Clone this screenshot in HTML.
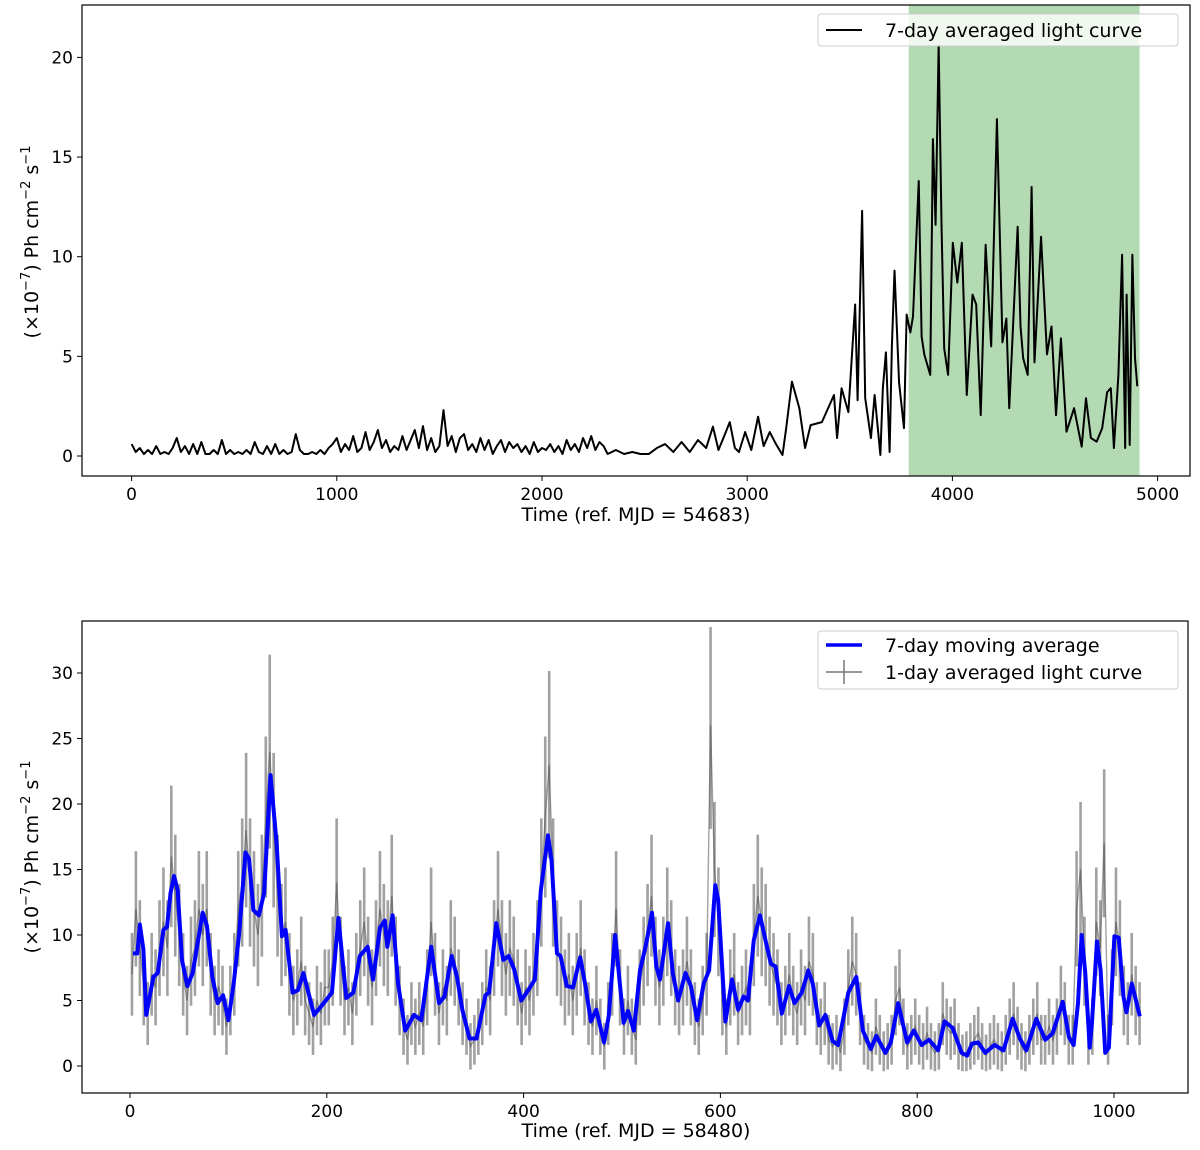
<!DOCTYPE html>
<html><head><meta charset="utf-8"><style>
html,body{margin:0;padding:0;background:#fff;}
svg{display:block;font-family:"DejaVu Sans","Liberation Sans",sans-serif;}
</style></head><body>
<svg id="fig" width="1200" height="1150" viewBox="0 0 1200 1150" xmlns="http://www.w3.org/2000/svg">
<g id="topPanel"></g>
<g id="botPanel"></g>
<g font-family="DejaVu Sans, Liberation Sans, sans-serif">
  <text x="636" y="521" font-size="19" text-anchor="middle">Time (ref. MJD = 54683)</text>
  <text transform="translate(38,242) rotate(-90)" font-size="19" text-anchor="middle">(×10<tspan dy="-8" font-size="13">−7</tspan><tspan dy="8">) Ph cm</tspan><tspan dy="-8" font-size="13">−2</tspan><tspan dy="8"> s</tspan><tspan dy="-8" font-size="13">−1</tspan></text>
  <text x="636" y="1137" font-size="19" text-anchor="middle">Time (ref. MJD = 58480)</text>
  <text transform="translate(38,857) rotate(-90)" font-size="19" text-anchor="middle">(×10<tspan dy="-8" font-size="13">−7</tspan><tspan dy="8">) Ph cm</tspan><tspan dy="-8" font-size="13">−2</tspan><tspan dy="8"> s</tspan><tspan dy="-8" font-size="13">−1</tspan></text>
</g>
</svg>
<script>
// ---- top panel data ----
const topLowStep = 20;
const topLowVals = [0.6,0.2,0.4,0.1,0.3,0.1,0.5,0.1,0.2,0.1,0.4,0.9,0.2,0.5,0.1,0.6,0.1,0.7,0.1,0.1,0.3,0.1,0.8,0.1,0.3,0.1,0.2,0.1,0.3,0.1,0.7,0.2,0.1,0.5,0.1,0.6,0.1,0.3,0.1,0.2,1.1,0.3,0.1,0.1,0.2,0.1,0.3,0.1,0.4,0.6,0.9,0.2,0.6,0.3,1.0,0.2,0.4,1.2,0.3,0.7,1.3,0.4,0.8,0.2,0.5,0.3,1.0,0.3,0.8,1.3,0.4,1.5,0.3,0.9,0.2,0.5,2.3,0.5,1.0,0.2,0.9,1.1,0.3,0.6,0.2,0.9,0.3,0.8,0.1,0.5,0.8,0.2,0.7,0.4,0.6,0.2,0.5,0.1,0.7,0.2,0.4,0.3,0.6,0.2,0.5,0.1,0.8,0.3,0.6,0.2,0.9,0.4,1.0,0.3,0.7,0.5];
const topHighDays = [2320,2360,2400,2440,2480,2520,2560,2600,2640,2680,2720,2760,2800,2833,2860,2880,2915,2940,2960,2990,3020,3053,3080,3110,3140,3172,3190,3218,3254,3282,3309,3364,3423,3438,3460,3493,3526,3538,3560,3575,3603,3621,3649,3661,3676,3694,3705,3718,3740,3764,3777,3795,3808,3836,3850,3863,3892,3905,3918,3933,3947,3960,3979,4002,4024,4046,4070,4098,4116,4138,4162,4189,4217,4244,4263,4277,4318,4332,4345,4367,4386,4400,4432,4461,4483,4505,4529,4556,4593,4630,4651,4675,4703,4730,4754,4772,4787,4809,4827,4842,4849,4864,4877,4890,4901];
const topHighVals = [0.1,0.3,0.1,0.2,0.1,0.1,0.4,0.6,0.2,0.7,0.2,0.8,0.4,1.47,0.3,0.8,1.7,0.4,0.2,1.2,0.3,1.97,0.5,1.2,0.6,0.05,1.4,3.73,2.4,0.4,1.55,1.7,3.06,0.9,3.4,2.2,7.6,2.8,12.3,2.9,0.9,3.06,0.05,3.4,5.2,0.2,5.5,9.3,3.7,1.4,7.1,6.2,7.0,13.8,6.0,5.1,4.07,15.9,11.6,20.6,11.6,5.4,4.07,10.7,8.7,10.7,3.06,8.1,7.6,2.05,10.6,5.5,16.9,5.7,6.9,2.4,11.5,6.5,4.9,4.07,13.5,4.7,11.0,5.1,6.5,2.05,5.9,1.22,2.4,0.47,2.9,0.9,0.72,1.4,3.2,3.4,0.4,4.07,10.1,0.4,8.1,0.55,10.1,4.9,3.5];
const topXTicks = [0,1000,2000,3000,4000,5000];
const topYTicks = [0,5,10,15,20];
const spanRange = [3787,4912];

// ---- bottom panel data ----
const avgDays = [3,7.5,10,13.6,16.5,23.8,28.2,34,37.6,41.2,44.8,48.5,52.8,58.3,63.7,69.2,73.9,78.2,83.7,89.1,94.6,100,105.4,110.9,117.4,121,125.4,130.9,136.3,142.8,149,154.4,158.1,165.3,170.8,176.2,187.1,198,205.2,211.8,219.8,227,233.6,241.5,247,254.2,259,261.5,266.9,272.4,279.7,288.7,296,306.1,314.1,319.6,326.8,332.3,337.7,345,352.2,361.3,364.9,372.2,379.4,384.9,390.3,397.6,404.8,411.4,417.5,424.8,428.4,433.9,437.5,444,450.2,457.5,462.9,468.4,473.8,481.8,486.5,493,501.7,506.1,512,518.3,523.9,530.5,534.9,538.6,546.8,551.6,557.1,564.5,570,576.3,583,588.5,594.8,597.7,605.1,611.8,618.1,623.6,628,633.9,640.2,645.8,651.3,656.1,662.4,669.8,675.3,682.7,689.3,693.8,700.4,706.7,714.1,719.6,730,738.1,744.8,752.9,758.4,767.7,773.2,780.6,789.8,796.5,804.6,812,821.2,827.9,836,845.2,850.8,855.6,861.9,869.2,878.5,887.7,897,904.3,911,921,930.2,937.6,947.9,954.2,959,963.4,967.1,970.8,975.3,977.5,982.7,986.4,991.1,994.8,1000.4,1004.8,1009.6,1012.6,1018.1,1026.2];
const avgVals = [8.6,8.6,10.8,8.9,3.9,6.8,7.1,10.4,10.6,13.2,14.5,13.4,8.1,6.1,7.1,9.6,11.7,10.7,6.8,4.8,5.4,3.5,6.3,10.1,16.3,15.8,11.9,11.5,13.2,22.2,17,9.9,10.4,5.6,5.8,7.1,3.9,4.9,5.6,11.3,5.2,5.6,8.4,9.1,6.6,10.6,11.1,9.1,11.5,6.3,2.7,3.9,3.5,9.1,4.8,5.3,8.4,6.8,4.3,2.1,2.1,5.4,5.6,10.9,8.1,8.4,7.4,5.0,5.8,6.6,13.4,17.6,15.7,8.6,8.4,6.1,6.0,8.3,6.1,3.4,4.3,1.8,3.8,10.0,3.3,4.2,2.7,7.3,9.1,11.7,7.6,6.6,10.9,7.1,5.0,7.1,6.1,3.5,6.3,7.3,13.8,12.7,3.4,6.6,4.3,5.3,5.0,9.6,11.5,9.6,7.8,7.6,4.0,6.1,4.8,5.6,7.3,6.3,3.1,3.9,1.9,1.6,5.6,6.8,2.7,1.3,2.3,1.0,1.8,4.8,1.8,2.7,1.6,2.0,1.2,3.4,2.9,1.0,0.8,1.7,1.8,1.0,1.6,1.2,3.6,2.1,1.2,3.6,2.0,2.5,4.9,2.2,1.6,4.8,10.0,7.1,1.4,3.2,9.5,7.3,1.0,1.4,9.9,9.8,5.3,4.1,6.3,3.8];
const grayStart = 2, grayStep = 4;
const grayVals = [7,12,9,6,4,7,6,9,11,9,16,13,10,7,5,8,9,12,10,12,7,5,6,5,3,5,7,12,14,18,14,12,10,13,19,24,18,13,10,11,7,5,6,8,5,4,3,5,4,6,6,8,14,8,5,6,4,7,9,11,8,6,9,12,10,9,13,8,5,3,2,4,3,4,3,6,11,7,4,6,5,9,8,6,4,3,1.5,2,3,4,6,5,9,12,9,7,9,8,6,4,6,5,7,9,14,19,23,14,9,8,6,7,5,7,9,6,4,3,5,3,1.5,4,7,12,6,3,5,3,2,6,8,10,13,8,6,8,11,9,6,5,6,8,6,4,3,5,7,26,15,11,5,3,6,7,4,5,6,5,10,13,11,10,8,7,6,4,5,7,5,4,6,5,8,7,4,3,4,2,1.5,2,1,3,6,8,7,4,2,1.5,1,3,2,1,1.5,2,5,6,3,1.5,2,3,2,1.5,2.5,1.5,1,1.5,4,3,2.5,3,1.5,0.8,1,1.5,2,2.5,1.5,0.8,1.5,2,1.5,1,2,3,4,2.5,1.5,1,2,3,4,2,2,3,2,3,5,4,2,2,12,15,8,2,3,11,9,17,2,6,11,9,5,4,7,5,4];
const botXTicks = [0,200,400,600,800,1000];
const botYTicks = [0,5,10,15,20,25,30];

const NS = "http://www.w3.org/2000/svg";
function mk(parent, tag, attrs, text) {
  const e = document.createElementNS(NS, tag);
  for (const k in attrs) e.setAttribute(k, attrs[k]);
  if (text !== undefined) e.textContent = text;
  parent.appendChild(e);
  return e;
}

// ===== top panel =====
const T = {l:82, r:1190, t:5, b:476};
const txs = d => 131.6 + 0.2052 * d;
const tys = v => 456 - 19.93 * v;
const topG = document.getElementById('topPanel');

const span = mk(topG, 'rect', {x: txs(spanRange[0]), y: T.t, width: txs(spanRange[1]) - txs(spanRange[0]), height: T.b - T.t, fill: '#b3dab3'});



const tp = [];
topLowVals.forEach((v, i) => tp.push(txs(i * topLowStep).toFixed(2) + ',' + tys(v).toFixed(2)));
topHighDays.forEach((d, i) => tp.push(txs(d).toFixed(2) + ',' + tys(topHighVals[i]).toFixed(2)));
const tline = mk(topG, 'polyline', {points: tp.join(' '), fill: 'none', stroke: '#000', 'stroke-width': 2, 'stroke-linejoin': 'round'});



const tframe = mk(topG, 'rect', {x: T.l, y: T.t, width: T.r - T.l, height: T.b - T.t, fill: 'none', stroke: '#000', 'stroke-width': 1.2});



topXTicks.forEach(t => {
  const x = txs(t);
  const tk = mk(topG, 'line', {x1: x, x2: x, y1: T.b, y2: T.b + 5, stroke: '#000', 'stroke-width': 1});
  
  
  const lb = mk(topG, 'text', {x: x, y: T.b + 24, 'font-size': 17, 'text-anchor': 'middle'}, String(t));
  
  
});
topYTicks.forEach(t => {
  const y = tys(t);
  const tk = mk(topG, 'line', {x1: T.l - 5, x2: T.l, y1: y, y2: y, stroke: '#000', 'stroke-width': 1});
  
  
  const lb = mk(topG, 'text', {x: T.l - 9, y: y + 6, 'font-size': 17, 'text-anchor': 'end'}, String(t));
  
  
});

const tlg = mk(topG, 'g', {});


mk(tlg, 'rect', {x: 818, y: 14, width: 360, height: 32, rx: 3, fill: '#fff', 'fill-opacity': 0.8, stroke: '#ccc'});
const tl1 = mk(tlg, 'line', {x1: 826, x2: 862, y1: 30, y2: 30, stroke: '#000', 'stroke-width': 2});


const tt1 = mk(tlg, 'text', {x: 885, y: 37, 'font-size': 19}, '7-day averaged light curve');



// ===== bottom panel =====
const B = {l:82, r:1188, t:621, b:1093};
const bxs = d => 130 + 0.984 * d;
const bys = v => 1066 - 13.1 * v;
const botG = document.getElementById('botPanel');

const grayG = mk(botG, 'g', {stroke: '#444', 'stroke-opacity': 0.5, 'stroke-width': 2.6});


const gp = [];
grayVals.forEach((v, i) => {
  const d = grayStart + i * grayStep;
  const x = bxs(d);
  const h = 0.25 * v + 1.4;
  const eb = mk(grayG, 'line', {x1: x, x2: x, y1: bys(Math.min(v + h, 33.5)), y2: bys(Math.max(v - h, -0.4))});
  
  
  gp.push(x.toFixed(2) + ',' + bys(v).toFixed(2));
});
const gline = mk(grayG, 'polyline', {points: gp.join(' '), fill: 'none', 'stroke-width': 1.4});



const bp = avgDays.map((d, i) => bxs(d).toFixed(2) + ',' + bys(avgVals[i]).toFixed(2));
const bline = mk(botG, 'polyline', {points: bp.join(' '), fill: 'none', stroke: '#0000ff', 'stroke-width': 4, 'stroke-linejoin': 'round'});



const bframe = mk(botG, 'rect', {x: B.l, y: B.t, width: B.r - B.l, height: B.b - B.t, fill: 'none', stroke: '#000', 'stroke-width': 1.2});



botXTicks.forEach(t => {
  const x = bxs(t);
  const tk = mk(botG, 'line', {x1: x, x2: x, y1: B.b, y2: B.b + 5, stroke: '#000', 'stroke-width': 1});
  
  
  const lb = mk(botG, 'text', {x: x, y: B.b + 24, 'font-size': 17, 'text-anchor': 'middle'}, String(t));
  
  
});
botYTicks.forEach(t => {
  const y = bys(t);
  const tk = mk(botG, 'line', {x1: B.l - 5, x2: B.l, y1: y, y2: y, stroke: '#000', 'stroke-width': 1});
  
  
  const lb = mk(botG, 'text', {x: B.l - 9, y: y + 6, 'font-size': 17, 'text-anchor': 'end'}, String(t));
  
  
});

const lg = mk(botG, 'g', {});


mk(lg, 'rect', {x: 818, y: 631, width: 360, height: 58, rx: 3, fill: '#fff', 'fill-opacity': 0.8, stroke: '#ccc'});
const l1 = mk(lg, 'line', {x1: 826, x2: 862, y1: 645, y2: 645, stroke: '#0000ff', 'stroke-width': 3.5});


const t1 = mk(lg, 'text', {x: 885, y: 652, 'font-size': 19}, '7-day moving average');


mk(lg, 'line', {x1: 826, x2: 862, y1: 672, y2: 672, stroke: '#777', 'stroke-width': 1.5});
const l2 = mk(lg, 'line', {x1: 844, x2: 844, y1: 660, y2: 684, stroke: '#777', 'stroke-width': 1.5});


const t2 = mk(lg, 'text', {x: 885, y: 679, 'font-size': 19}, '1-day averaged light curve');


</script>
</body></html>
